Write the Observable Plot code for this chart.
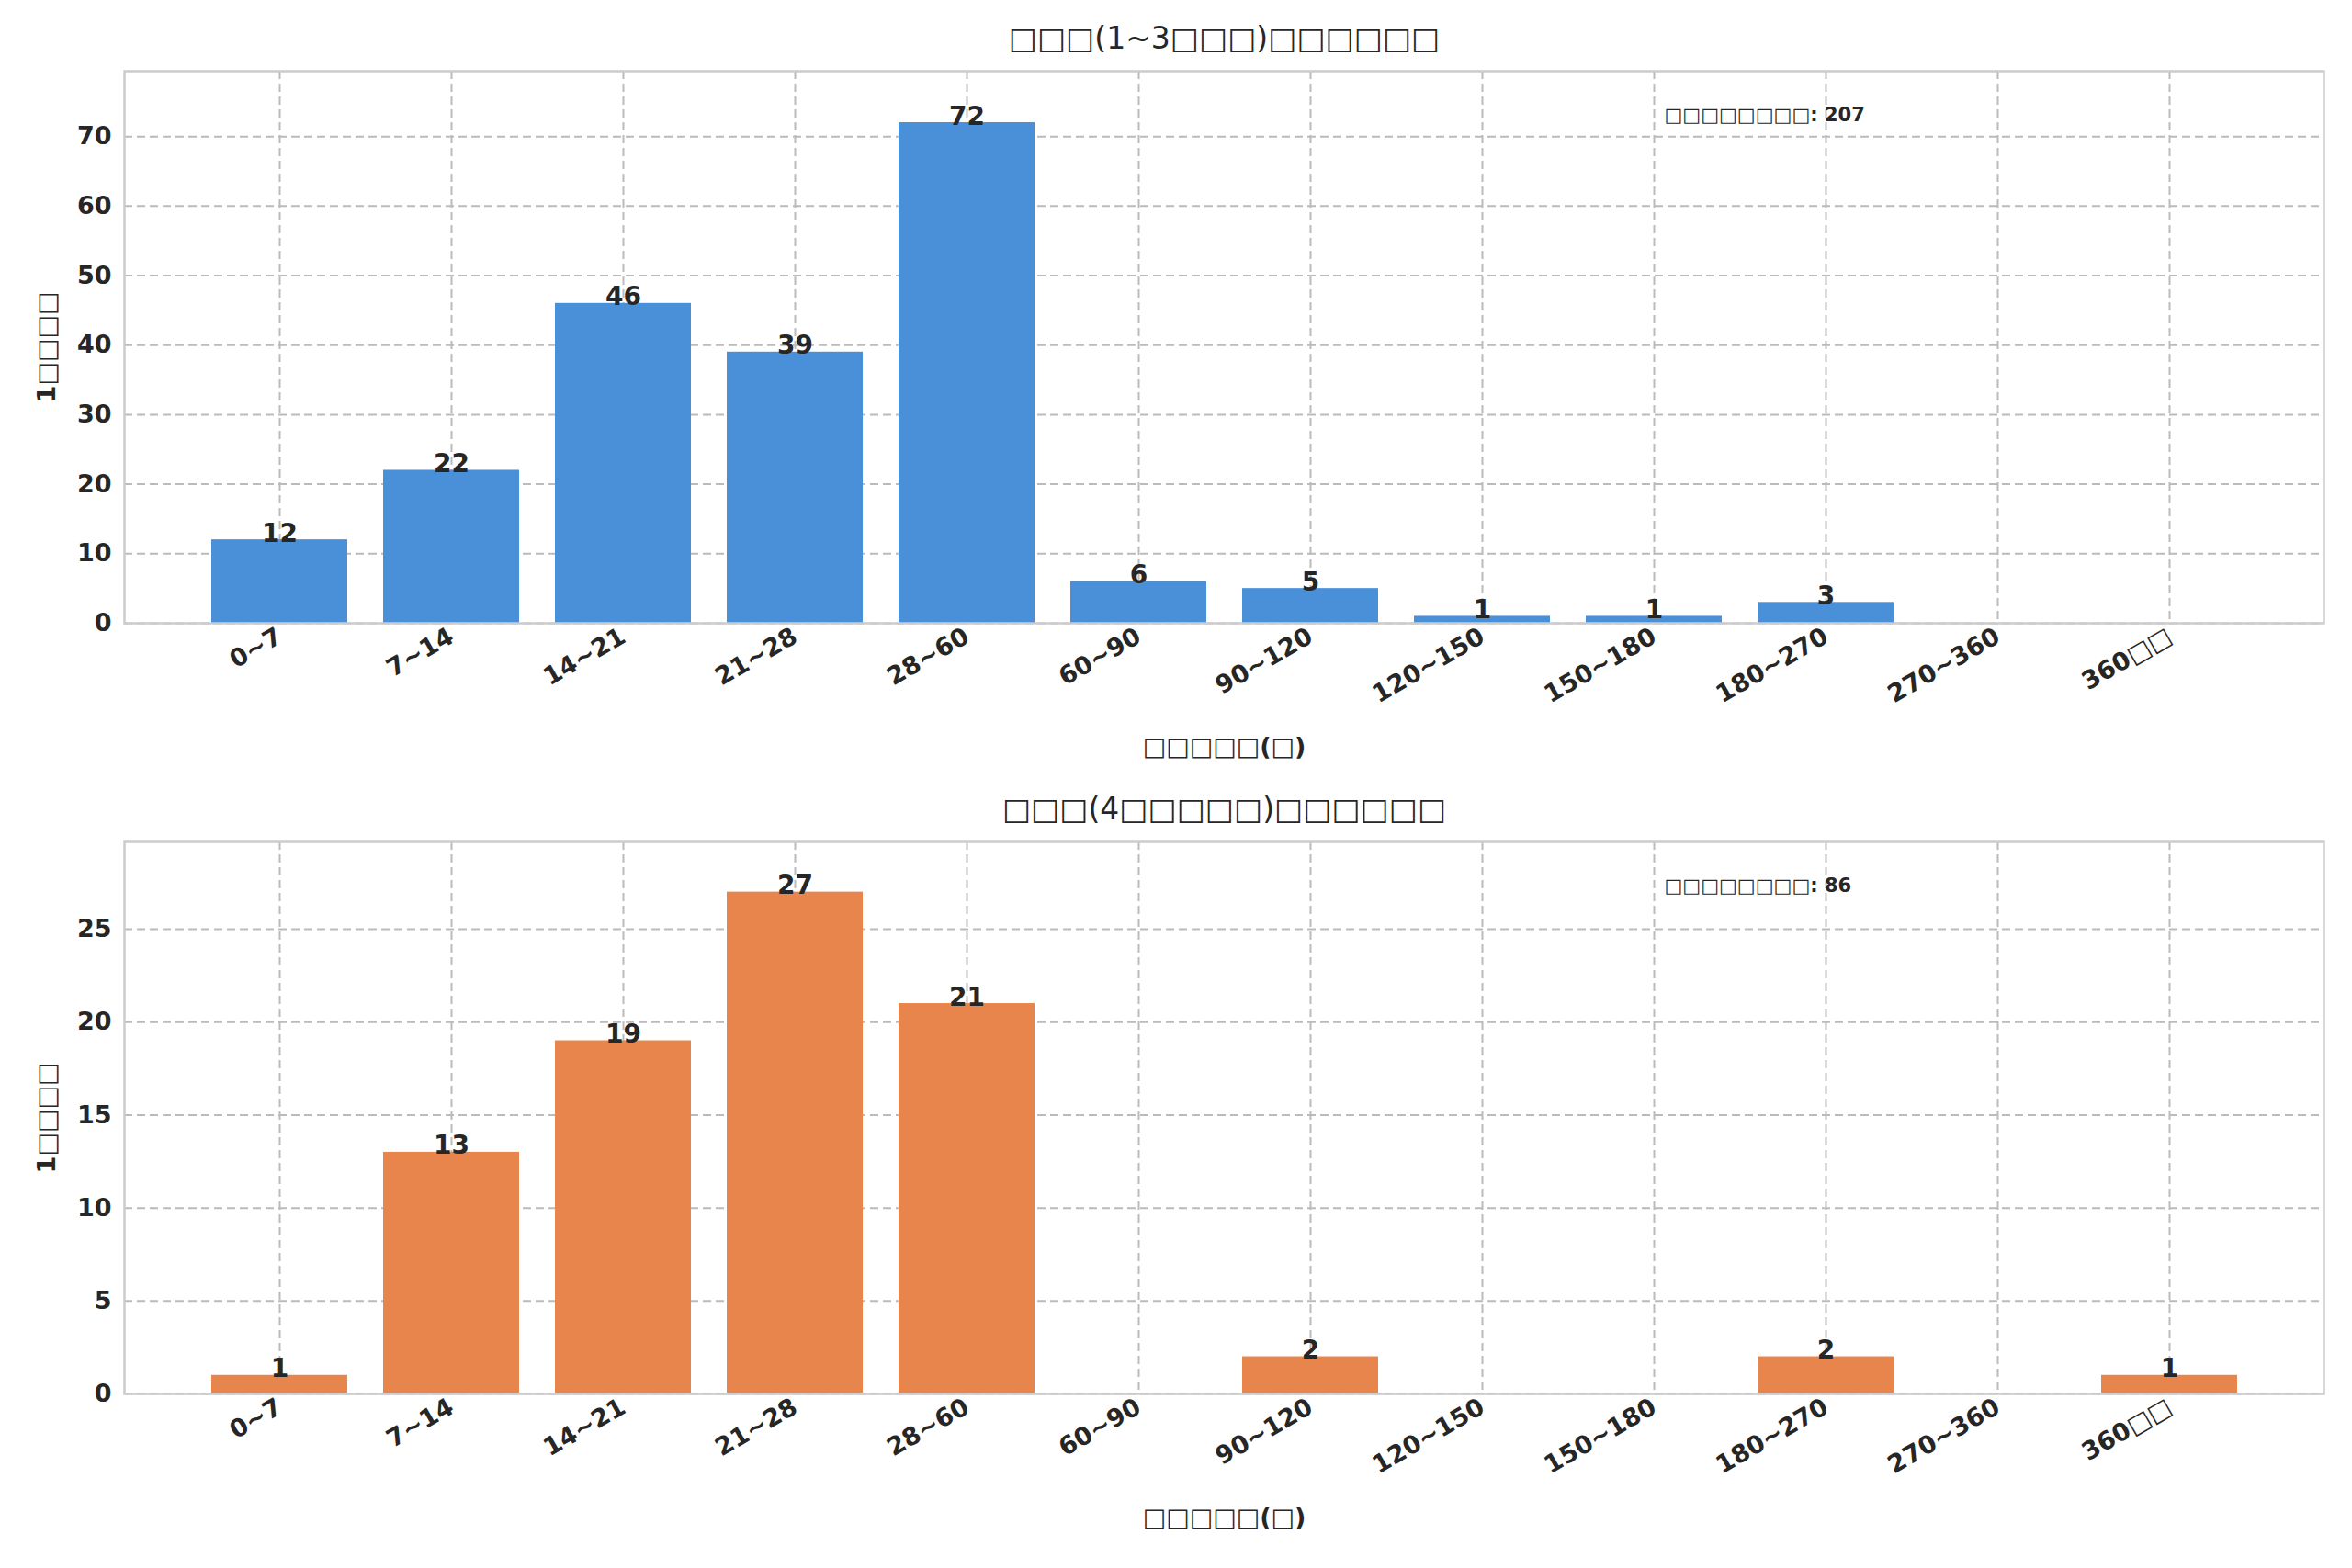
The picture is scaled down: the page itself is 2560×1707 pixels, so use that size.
<!DOCTYPE html><html><head><meta charset="utf-8">
<script src="https://cdn.jsdelivr.net/npm/d3@7"></script>
<script src="https://cdn.jsdelivr.net/npm/@observablehq/plot@0.6"></script>
<style>body{margin:0;background:#fff;font-family:"DejaVu Sans",sans-serif}</style></head><body><div id="c"></div>
<script>
const categories=["0~7","7~14","14~21","21~28","28~60","60~90","90~120","120~150","150~180","180~270","270~360","360□□"];
const values1=[12,22,46,39,72,6,5,1,1,3,0,0];
const values2=[1,13,19,27,21,0,2,0,0,2,0,1];
const titles=["□□□(1~3□□□)□□□□□□","□□□(4□□□□□)□□□□□□"];
const notes=["□□□□□□□□: 207","□□□□□□□□: 86"];
const yTicks=[[0,10,20,30,40,50,60,70],[0,5,10,15,20,25]];
const yMax=[79.4,29.7];
const colors=["#4a90d9","#e8854d"];
function make(i,vals){
  const data=categories.map((c,j)=>({c,v:vals[j]}));
  return Plot.plot({
    width:2560,height:839,marginLeft:135,marginRight:31,marginTop:77,marginBottom:161,
    style:{fontFamily:"DejaVu Sans",fontSize:"27px",fontWeight:"bold",color:"#262626",overflow:"visible"},
    x:{domain:categories,paddingInner:0.21,paddingOuter:0.49,tickRotate:-30,tickSize:0,tickPadding:12,label:"□□□□□(□)",labelAnchor:"center",labelOffset:143},
    y:{domain:[0,yMax[i]],ticks:yTicks[i],tickSize:0,tickPadding:14,label:"1□□□□",labelAnchor:"center",labelOffset:95,labelArrow:"none"},
    marks:[
      Plot.gridX(categories,{stroke:"#bbb",strokeOpacity:1,strokeDasharray:"9,5",strokeWidth:2}),
      Plot.gridY(yTicks[i],{stroke:"#bbb",strokeOpacity:1,strokeDasharray:"9,5",strokeWidth:2}),
      Plot.barY(data,{x:"c",y:"v",fill:colors[i]}),
      Plot.text(data.filter(d=>d.v>0),{x:"c",y:"v",text:d=>String(d.v),lineAnchor:"bottom",dy:2,fontSize:28,fontWeight:"bold",fill:"#262626"}),
      Plot.frame({stroke:"#ccc",strokeWidth:2.5}),
      Plot.text([notes[i]],{frameAnchor:"top-left",dx:1676,dy:40,fontSize:21,fontWeight:"bold",fill:"#262626"}),
      Plot.text([titles[i]],{frameAnchor:"top",dy:-48,fontSize:33,fontWeight:"normal",fill:"#262626"})
    ]
  });
}
const c=document.getElementById("c");
c.append(make(0,values1));c.append(make(1,values2));
</script></body></html>
